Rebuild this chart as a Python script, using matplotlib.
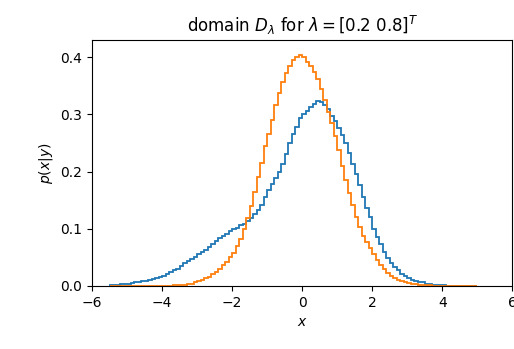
import numpy as np
import matplotlib
matplotlib.use("Agg")
import matplotlib.pyplot as plt

# histogram heights, bins of width 0.1 starting at -5.5
blue = [
    0.001, 0.001, 0.002, 0.003, 0.003, 0.004, 0.005, 0.006, 0.007, 0.008,
    0.009, 0.010, 0.012, 0.013, 0.015, 0.017, 0.020, 0.024, 0.027, 0.030,
    0.035, 0.040, 0.043, 0.047, 0.051, 0.055, 0.059, 0.063, 0.068, 0.073,
    0.078, 0.083, 0.088, 0.091, 0.096, 0.099, 0.102, 0.106, 0.109, 0.113,
    0.119, 0.126, 0.133, 0.142, 0.156, 0.168, 0.178, 0.188, 0.200, 0.214,
    0.230, 0.250, 0.265, 0.278, 0.293, 0.300, 0.306, 0.313, 0.318, 0.323,
    0.322, 0.316, 0.309, 0.298, 0.289, 0.277, 0.264, 0.250, 0.232, 0.214,
    0.196, 0.176, 0.155, 0.136, 0.120, 0.100, 0.086, 0.074, 0.060, 0.049,
    0.040, 0.033, 0.027, 0.021, 0.017, 0.014, 0.011, 0.009, 0.007, 0.006,
    0.004, 0.003, 0.002, 0.002, 0.001, 0.001, 0.0005, 0.0005, 0.0003, 0.0003,
    0.0002, 0.0002, 0.0001, 0.0001, 0.0001,
]
orange = [
    0, 0, 0, 0, 0, 0, 0, 0, 0, 0,
    0, 0, 0, 0, 0, 0.0002, 0.0003, 0.0005, 0.0008, 0.001,
    0.0015, 0.002, 0.003, 0.004, 0.006, 0.008, 0.010, 0.013, 0.016, 0.020,
    0.025, 0.030, 0.036, 0.042, 0.050, 0.058, 0.069, 0.082, 0.100, 0.118,
    0.140, 0.165, 0.190, 0.215, 0.245, 0.265, 0.290, 0.316, 0.338, 0.356,
    0.372, 0.385, 0.395, 0.400, 0.404, 0.400, 0.392, 0.384, 0.374, 0.362,
    0.345, 0.325, 0.305, 0.285, 0.262, 0.238, 0.210, 0.185, 0.163, 0.142,
    0.120, 0.103, 0.088, 0.076, 0.066, 0.055, 0.046, 0.037, 0.030, 0.023,
    0.018, 0.014, 0.011, 0.008, 0.006, 0.005, 0.004, 0.003, 0.002, 0.0015,
    0.001, 0.0007, 0.0005, 0.0003, 0.0002, 0, 0, 0, 0, 0,
    0, 0, 0, 0, 0,
]
x_start, x_stop = -5.5, 5.0
edges = np.linspace(x_start, x_stop, len(blue) + 1)

fig, ax = plt.subplots(figsize=(5.14, 3.49), dpi=100)
fig.subplots_adjust(left=0.179, right=0.997, bottom=0.181, top=0.885)

ax.stairs(blue, edges, color="C0", linewidth=1.3)
ax.stairs(orange, edges, color="C1", linewidth=1.3)

ax.set_xlim(-6, 6)
ax.set_ylim(0, 0.43)
ax.set_yticks([0.0, 0.1, 0.2, 0.3, 0.4])
ax.set_xlabel("$x$")
ax.set_ylabel("$p(x|y)$")
ax.set_title(r"domain $D_\lambda$ for $\lambda = [0.2\ 0.8]^T$")

plt.savefig("out.png")
